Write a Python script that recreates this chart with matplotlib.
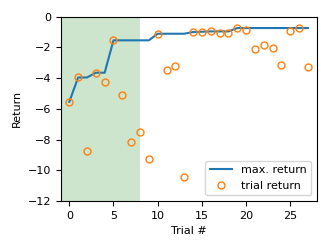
import numpy as np
from matplotlib import pyplot as plt

trials = np.arange(28)
trial_return = [-5.54, -3.96, -8.75, -3.65, -4.24, -1.54, -5.1, -8.18, -7.49, -9.25,
                -1.11, -3.46, -3.22, -10.42, -1.0, -0.98, -0.96, -1.04, -1.04, -0.74,
                -0.87, -2.1, -1.87, -2.06, -3.17, -0.93, -0.74, -3.26]
max_return = np.maximum.accumulate(trial_return)
n_init = 8

fig = plt.figure(figsize=(3.32, 2.49), dpi=100)
ax = fig.add_axes([0.184, 0.193, 0.77, 0.74])

ax.axvspan(-1, n_init, color='g', alpha=0.2, linewidth=0)
ax.plot(trials, max_return, color='tab:blue', linewidth=1.5, label='max. return')
ax.plot(trials, trial_return, 'o', markerfacecolor='none', markeredgecolor='tab:orange',
        markersize=5, markeredgewidth=1.0, label='trial return')

ax.set_xlim(-0.93, 28.0)
ax.set_ylim(-12, 0)
ax.set_xticks([0, 5, 10, 15, 20, 25])
ax.set_yticks([0, -2, -4, -6, -8, -10, -12])
ax.tick_params(labelsize=8)
ax.set_xlabel('Trial #', fontsize=8)
ax.set_ylabel('Return', fontsize=8)
ax.legend(loc='lower right', fontsize=8)

plt.savefig('out.png', dpi=100)
